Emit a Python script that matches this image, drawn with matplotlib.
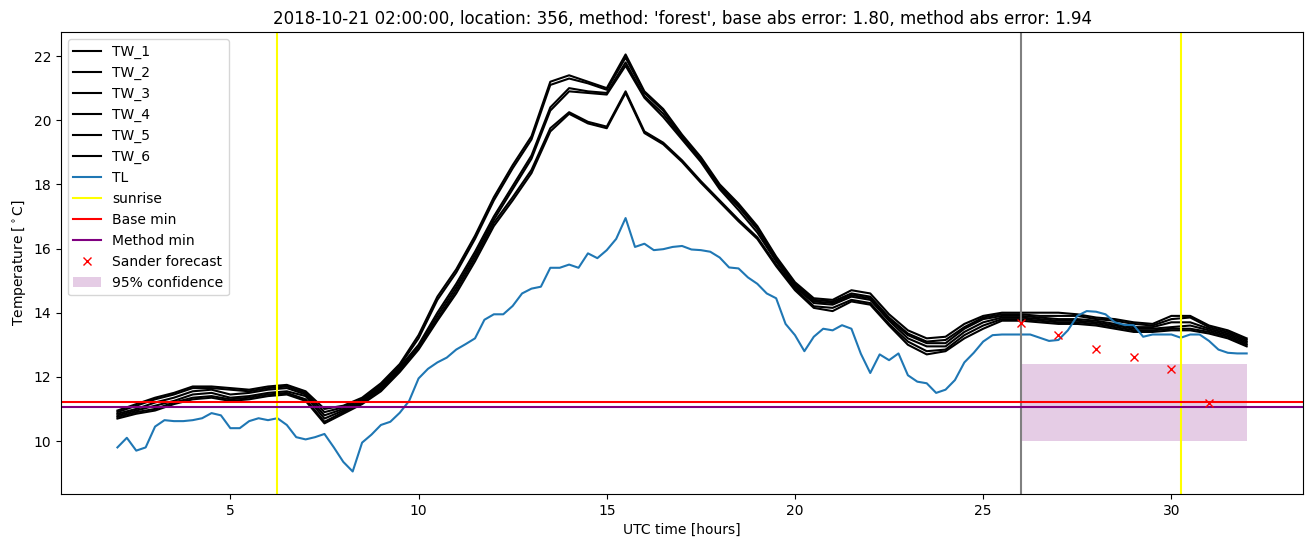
import numpy as np
import matplotlib
matplotlib.use("Agg")
import matplotlib.pyplot as plt

# road surface (TW) series, sampled every 30 min from 02:00 to 32:00
horas_tw = np.arange(2.0, 32.01, 0.5)
tw_1 = [10.95, 11.15, 11.35, 11.5, 11.7, 11.7, 11.65, 11.6, 11.7, 11.75, 11.55, 11.0, 11.1, 11.35, 11.8, 12.4,
        13.3, 14.5, 15.35, 16.4, 17.6, 18.6, 19.5, 21.2, 21.4, 21.2, 21.0, 22.05, 20.9, 20.35, 19.55, 18.85,
        18.0, 17.4, 16.7, 15.75, 14.95, 14.45, 14.4, 14.7, 14.6, 13.95, 13.45, 13.2, 13.25, 13.65, 13.9,
        14.0, 14.0, 14.0, 14.0, 13.95, 13.85, 13.8, 13.7, 13.65, 13.9, 13.9, 13.6, 13.45, 13.2]
tw_2 = [10.9, 11.1, 11.3, 11.45, 11.65, 11.65, 11.6, 11.55, 11.65, 11.7, 11.5, 10.9, 11.05, 11.3, 11.75, 12.35,
        13.2, 14.4, 15.25, 16.3, 17.5, 18.5, 19.4, 21.1, 21.3, 21.15, 20.95, 21.95, 20.85, 20.3, 19.5, 18.8,
        17.95, 17.35, 16.65, 15.7, 14.9, 14.4, 14.35, 14.6, 14.5, 13.85, 13.35, 13.1, 13.15, 13.55, 13.85,
        13.95, 13.95, 13.9, 13.9, 13.9, 13.8, 13.75, 13.65, 13.6, 13.8, 13.85, 13.55, 13.4, 13.15]
tw_3 = [10.85, 11.0, 11.2, 11.35, 11.55, 11.6, 11.45, 11.5, 11.6, 11.65, 11.45, 10.8, 11.0, 11.25, 11.7, 12.3,
        13.0, 14.0, 14.9, 15.9, 17.0, 17.95, 18.9, 20.4, 21.0, 20.9, 20.85, 21.8, 20.75, 20.2, 19.45, 18.75,
        17.9, 17.3, 16.6, 15.65, 14.85, 14.35, 14.3, 14.55, 14.45, 13.8, 13.3, 13.05, 13.05, 13.5, 13.8,
        13.9, 13.9, 13.85, 13.8, 13.8, 13.75, 13.65, 13.55, 13.55, 13.7, 13.7, 13.5, 13.35, 13.1]
tw_4 = [10.8, 10.95, 11.1, 11.25, 11.45, 11.5, 11.35, 11.4, 11.5, 11.55, 11.4, 10.7, 10.95, 11.2, 11.65, 12.25,
        12.95, 13.9, 14.8, 15.8, 16.9, 17.85, 18.8, 20.3, 20.9, 20.85, 20.8, 21.7, 20.7, 20.1, 19.4, 18.7,
        17.85, 17.2, 16.5, 15.6, 14.8, 14.3, 14.25, 14.5, 14.4, 13.75, 13.2, 12.95, 12.95, 13.4, 13.7,
        13.85, 13.85, 13.8, 13.75, 13.75, 13.7, 13.6, 13.5, 13.5, 13.55, 13.6, 13.45, 13.3, 13.05]
tw_5 = [10.75, 10.9, 11.0, 11.2, 11.35, 11.4, 11.3, 11.35, 11.45, 11.5, 11.3, 10.6, 10.9, 11.2, 11.6, 12.2,
        12.9, 13.8, 14.7, 15.7, 16.8, 17.6, 18.45, 19.75, 20.25, 19.95, 19.8, 20.9, 19.65, 19.3, 18.75, 18.1,
        17.5, 16.9, 16.35, 15.5, 14.75, 14.2, 14.15, 14.4, 14.3, 13.65, 13.1, 12.8, 12.85, 13.3, 13.6,
        13.8, 13.8, 13.75, 13.7, 13.7, 13.65, 13.55, 13.45, 13.45, 13.5, 13.5, 13.4, 13.25, 13.0]
tw_6 = [10.7, 10.85, 10.95, 11.15, 11.3, 11.35, 11.25, 11.3, 11.4, 11.45, 11.25, 10.55, 10.85, 11.15, 11.55, 12.15,
        12.85, 13.75, 14.6, 15.6, 16.7, 17.5, 18.35, 19.65, 20.2, 19.9, 19.75, 20.85, 19.6, 19.25, 18.7, 18.05,
        17.45, 16.85, 16.3, 15.45, 14.7, 14.15, 14.05, 14.35, 14.25, 13.6, 13.0, 12.7, 12.8, 13.2, 13.5,
        13.75, 13.75, 13.7, 13.65, 13.65, 13.6, 13.5, 13.4, 13.4, 13.45, 13.45, 13.35, 13.2, 12.95]

# air temperature (TL), every 15 min
horas_tl = np.arange(2.0, 32.01, 0.25)
tl = [9.8, 10.1, 9.7, 9.8, 10.45, 10.65, 10.62, 10.62, 10.65, 10.71, 10.87, 10.8, 10.4, 10.4, 10.62, 10.71,
      10.65, 10.71, 10.5, 10.12, 10.05, 10.12, 10.22, 9.8, 9.35, 9.05, 9.95, 10.2, 10.5, 10.6, 10.88, 11.25,
      11.95, 12.25, 12.45, 12.6, 12.85, 13.02, 13.2, 13.78, 13.95, 13.95, 14.21, 14.6, 14.75, 14.81, 15.4, 15.4,
      15.5, 15.4, 15.85, 15.7, 15.95, 16.3, 16.95, 16.05, 16.15, 15.95, 15.98, 16.05, 16.08, 15.97, 15.95, 15.9,
      15.72, 15.41, 15.38, 15.1, 14.9, 14.6, 14.45, 13.65, 13.3, 12.8, 13.25, 13.5, 13.45, 13.61, 13.5, 12.72,
      12.12, 12.7, 12.52, 12.73, 12.05, 11.85, 11.8, 11.5, 11.6, 11.9, 12.45, 12.75, 13.1, 13.3, 13.32, 13.32,
      13.32, 13.32, 13.22, 13.12, 13.15, 13.45, 13.9, 14.05, 14.03, 13.95, 13.7, 13.62, 13.61, 13.25, 13.32, 13.32,
      13.32, 13.22, 13.32, 13.32, 13.12, 12.85, 12.75, 12.73, 12.73]

nascer_sol = [6.25, 30.25]
inicio_previsao = 26.0
min_base = 11.22
min_metodo = 11.07

horas_sander = [26, 27, 28, 29, 30, 31]
previsao_sander = [13.69, 13.29, 12.86, 12.61, 12.23, 11.2]

conf_inicio, conf_fim = 26.0, 32.0
conf_baixo, conf_alto = 10.0, 12.4

fig = plt.figure(figsize=(13.11, 5.47), dpi=100)
ax = fig.add_axes([0.0465, 0.097, 0.9475, 0.8445])

for i, serie in enumerate([tw_1, tw_2, tw_3, tw_4, tw_5, tw_6]):
    ax.plot(horas_tw, serie, color='black', label=f'TW_{i + 1}')
ax.plot(horas_tl, tl, color='C0', label='TL')

ax.axvline(nascer_sol[0], color='yellow', label='sunrise')
ax.axvline(nascer_sol[1], color='yellow')
ax.axvline(inicio_previsao, color='gray')
ax.axhline(min_base, color='red', label='Base min')
ax.axhline(min_metodo, color='purple', label='Method min')
ax.plot(horas_sander, previsao_sander, 'x', color='red', linestyle='none', label='Sander forecast')
ax.fill_between([conf_inicio, conf_fim], conf_baixo, conf_alto, color='purple', alpha=0.2,
                linewidth=0, label='95% confidence')

ax.set_xlim(0.5, 33.5)
ax.set_ylim(8.35, 22.75)
ax.set_xlabel("UTC time [hours]")
ax.set_ylabel("Temperature [$^\\circ$C]")
ax.set_title("2018-10-21 02:00:00, location: 356, method: 'forest', base abs error: 1.80, method abs error: 1.94")
ax.legend(loc='upper left')

fig.savefig("out.png", dpi=100)
